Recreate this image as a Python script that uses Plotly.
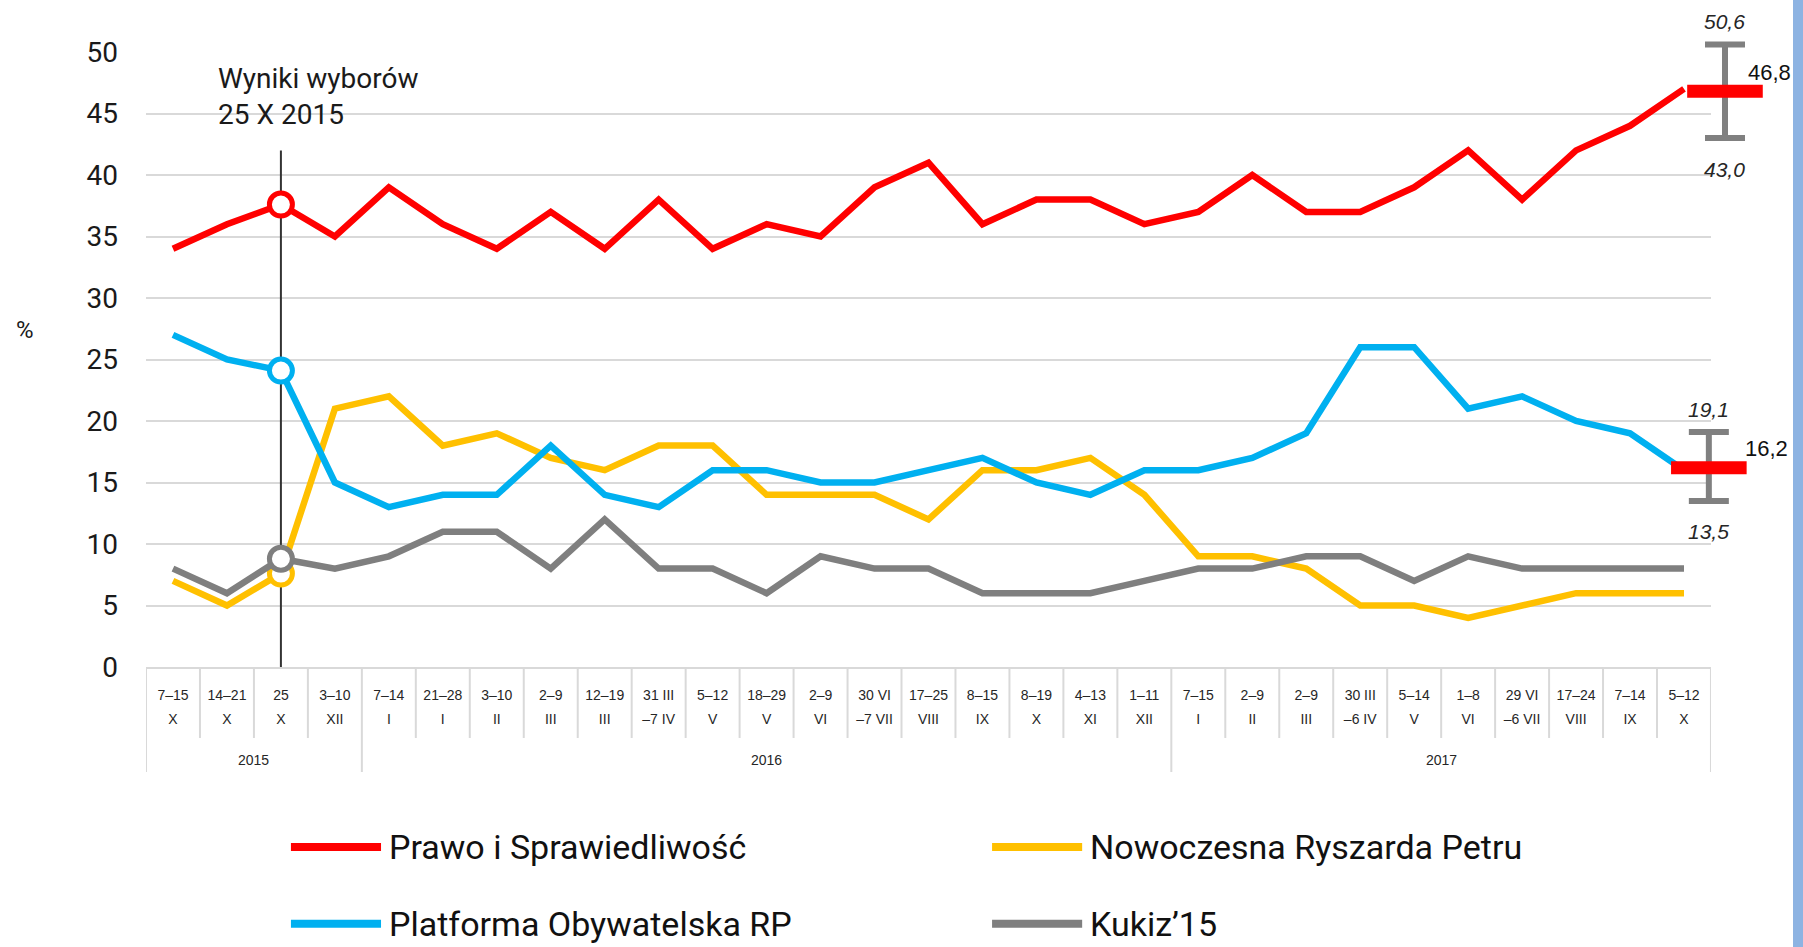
import plotly.graph_objects as go

# ---------------- data ----------------
period_top = ["7–15", "14–21", "25", "3–10", "7–14", "21–28", "3–10", "2–9", "12–19", "31 III",
              "5–12", "18–29", "2–9", "30 VI", "17–25", "8–15", "8–19", "4–13", "1–11", "7–15",
              "2–9", "2–9", "30 III", "5–14", "1–8", "29 VI", "17–24", "7–14", "5–12"]
period_bottom = ["X", "X", "X", "XII", "I", "I", "II", "III", "III", "–7 IV",
                 "V", "V", "VI", "–7 VII", "VIII", "IX", "X", "XI", "XII", "I",
                 "II", "III", "–6 IV", "V", "VI", "–6 VII", "VIII", "IX", "X"]
years = ["2015", "2016", "2017"]
year_first_idx = [0, 4, 19]
year_last_idx = [3, 18, 28]
election_idx = 2

pis = [34, 36, 37.6, 35, 39, 36, 34, 37, 34, 38, 34, 36, 35, 39, 41, 36, 38, 38, 36, 37,
       40, 37, 37, 39, 42, 38, 42, 44, 47]
po = [27, 25, 24.1, 15, 13, 14, 14, 18, 14, 13, 16, 16, 15, 15, 16, 17, 15, 14, 16, 16,
      17, 19, 26, 26, 21, 22, 20, 19, 16]
nowoczesna = [7, 5, 7.6, 21, 22, 18, 19, 17, 16, 18, 18, 14, 14, 14, 12, 16, 16, 17, 14, 9,
              9, 8, 5, 5, 4, 5, 6, 6, 6]
kukiz = [8, 6, 8.8, 8, 9, 11, 11, 8, 12, 8, 8, 6, 9, 8, 8, 6, 6, 6, 7, 8,
         8, 9, 9, 7, 9, 8, 8, 8, 8]

series_names = ["Prawo i Sprawiedliwość", "Nowoczesna Ryszarda Petru",
                "Platforma Obywatelska RP", "Kukiz’15"]

# final projection with its range
proj_names = ["Prawo i Sprawiedliwość", "Platforma Obywatelska RP"]
proj_value = [46.8, 16.2]
proj_low = [43.0, 13.5]
proj_high = [50.6, 19.1]
proj_value_lbl = ["46,8", "16,2"]
proj_low_lbl = ["43,0", "13,5"]
proj_high_lbl = ["50,6", "19,1"]

# ---------------- styles ----------------
RED = "#ff0000"
BLUE = "#00b0f0"
YELLOW = "#ffc000"
GRAY = "#7f7f7f"
GRID = "#d9d9d9"
TXT = "#262626"
colors = {"Prawo i Sprawiedliwość": RED, "Nowoczesna Ryszarda Petru": YELLOW,
          "Platforma Obywatelska RP": BLUE, "Kukiz’15": GRAY}
values = {"Prawo i Sprawiedliwość": pis, "Nowoczesna Ryszarda Petru": nowoczesna,
          "Platforma Obywatelska RP": po, "Kukiz’15": kukiz}
proj_xpos = [0.41, 0.27]      # positions inside the small right-hand axis
proj_value_xshift = [21, 34]

Y_TOP = 50
Y_DOMAIN_TOP = 615 / 647      # main plot occupies the lower part of the paper area

xs = list(range(len(period_top)))
n = len(xs)

fig = go.Figure()

# draw order: yellow, gray, blue, red
for name in ["Nowoczesna Ryszarda Petru", "Kukiz’15", "Platforma Obywatelska RP", "Prawo i Sprawiedliwość"]:
    vals = values[name]
    fig.add_trace(go.Scatter(x=xs, y=vals, mode="lines", name=name,
                             line=dict(color=colors[name], width=6.5),
                             showlegend=False, hoverinfo="x+y"))
    fig.add_trace(go.Scatter(x=[xs[election_idx]], y=[vals[election_idx]], mode="markers",
                             marker=dict(symbol="circle", size=23, color="white",
                                         line=dict(color=colors[name], width=5)),
                             showlegend=False, hoverinfo="y"))

# dummy trace for the second label row axis
fig.add_trace(go.Scatter(x=[0], y=[None], xaxis="x3", yaxis="y", showlegend=False,
                         hoverinfo="skip"))

# projection markers with ranges
for i, name in enumerate(proj_names):
    fig.add_trace(go.Scatter(
        x=[proj_xpos[i]], y=[proj_value[i]], xaxis="x2", yaxis="y2", mode="markers",
        cliponaxis=False, showlegend=False,
        marker=dict(symbol="line-ew", size=54, color=RED, line=dict(color=RED, width=13)),
        error_y=dict(type="data", symmetric=False,
                     array=[proj_high[i] - proj_value[i]],
                     arrayminus=[proj_value[i] - proj_low[i]],
                     color="#808080", thickness=6, width=20),
    ))
    fig.add_annotation(xref="x2", yref="y2", x=proj_xpos[i], y=proj_high[i],
                       text="<i>" + proj_high_lbl[i] + "</i>", showarrow=False,
                       xanchor="center", yanchor="middle", yshift=23,
                       font=dict(family="Liberation Sans", size=21, color=TXT))
    fig.add_annotation(xref="x2", yref="y2", x=proj_xpos[i], y=proj_low[i],
                       text="<i>" + proj_low_lbl[i] + "</i>", showarrow=False,
                       xanchor="center", yanchor="middle", yshift=-31,
                       font=dict(family="Liberation Sans", size=21, color=TXT))
    fig.add_annotation(xref="x2", yref="y2", x=proj_xpos[i], y=proj_value[i],
                       text=proj_value_lbl[i], showarrow=False,
                       xanchor="left", yanchor="middle", xshift=proj_value_xshift[i], yshift=19,
                       font=dict(family="Liberation Sans", size=22, color="#111111"))

# ---------------- shapes ----------------
shapes = []
for k in range(n + 1):
    b = k - 0.5
    is_year = (k == 0) or (k == n) or (k in year_first_idx)
    shapes.append(dict(type="line", xref="x", yref="paper", x0=b, x1=b, y0=0,
                       y1=-0.1623 if is_year else -0.1097,
                       line=dict(color=GRID, width=2)))
# white box behind the election label
shapes.append(dict(type="rect", xref="paper", yref="paper", x0=0.0358, x1=0.1907,
                   y0=0.830, y1=0.972, fillcolor="white", line=dict(width=0), layer="between"))
# election vertical line
shapes.append(dict(type="line", xref="x", yref="y", x0=election_idx, x1=election_idx,
                   y0=0, y1=42, line=dict(color="#333333", width=2), layer="between"))
# right edge stripe
shapes.append(dict(type="rect", xref="paper", yref="paper", x0=1.0, x1=1.01,
                   y0=-0.6, y1=1.1, fillcolor="#8db3e2", line=dict(width=0)))

# manual legend
leg_pos = [(0.088, -0.2782), (0.5137, -0.2782), (0.088, -0.397), (0.5137, -0.397)]
leg_order = ["Prawo i Sprawiedliwość", "Nowoczesna Ryszarda Petru",
             "Platforma Obywatelska RP", "Kukiz’15"]
for (lx, ly), name in zip(leg_pos, leg_order):
    shapes.append(dict(type="line", xref="paper", yref="paper", x0=lx, x1=lx + 0.0547,
                       y0=ly, y1=ly, line=dict(color=colors[name], width=8)))
    fig.add_annotation(xref="paper", yref="paper", x=lx + 0.0583, y=ly, text=name,
                       showarrow=False, xanchor="left", yanchor="middle",
                       font=dict(family="Roboto", size=34, color="#111111"))

fig.update_layout(shapes=shapes)

# year labels
for yname, a, b in zip(years, year_first_idx, year_last_idx):
    fig.add_annotation(xref="x", yref="paper", x=(a + b) / 2, y=-0.1437, text=yname,
                       showarrow=False, xanchor="center", yanchor="middle",
                       font=dict(family="Liberation Sans", size=14, color=TXT))

# election annotation
fig.add_annotation(xref="paper", yref="paper", x=0.0422, y=0.8825,
                   text="Wyniki wyborów<br>25 X 2015", showarrow=False,
                   xanchor="left", yanchor="middle", align="left",
                   font=dict(family="Roboto", size=28, color="#1a1a1a"))
# % label
fig.add_annotation(xref="paper", yref="paper", x=-0.0735, y=0.5209, text="%",
                   showarrow=False, xanchor="center", yanchor="middle",
                   font=dict(family="Roboto", size=24, color="#1a1a1a"))

fig.update_layout(
    width=1803, height=947,
    margin=dict(l=146, r=10, t=20, b=280, autoexpand=False),
    paper_bgcolor="white", plot_bgcolor="rgba(0,0,0,0)",
    showlegend=False,
    xaxis=dict(domain=[0, 0.9502], range=[-0.5, n - 0.5], tickvals=xs, ticktext=period_top,
               ticks="", showgrid=False, zeroline=False, showline=True, linecolor=GRID,
               linewidth=2, ticklabelstandoff=14, automargin=False,
               tickfont=dict(family="Liberation Sans", size=14, color=TXT)),
    xaxis3=dict(overlaying="x", anchor="y", side="bottom", range=[-0.5, n - 0.5],
                tickvals=xs, ticktext=period_bottom, ticks="", showgrid=False,
                zeroline=False, showline=False, ticklabelstandoff=42, automargin=False,
                tickfont=dict(family="Liberation Sans", size=14, color=TXT)),
    yaxis=dict(domain=[0, Y_DOMAIN_TOP], range=[0, Y_TOP], dtick=5, showgrid=True,
               gridcolor=GRID, gridwidth=2, zeroline=False, showline=False, ticks="",
               ticklabelstandoff=27, automargin=False,
               tickfont=dict(family="Roboto", size=28, color="#1a1a1a")),
    xaxis2=dict(domain=[0.93, 1.0], range=[0, 1], visible=False, anchor="y2",
                automargin=False),
    yaxis2=dict(domain=[0, 1], range=[0, Y_TOP / Y_DOMAIN_TOP], visible=False, anchor="x2",
                automargin=False),
)

fig.write_html("out.html", config={"displayModeBar": False},
               post_script="document.body.style.margin='0';document.body.style.overflow='hidden';")
